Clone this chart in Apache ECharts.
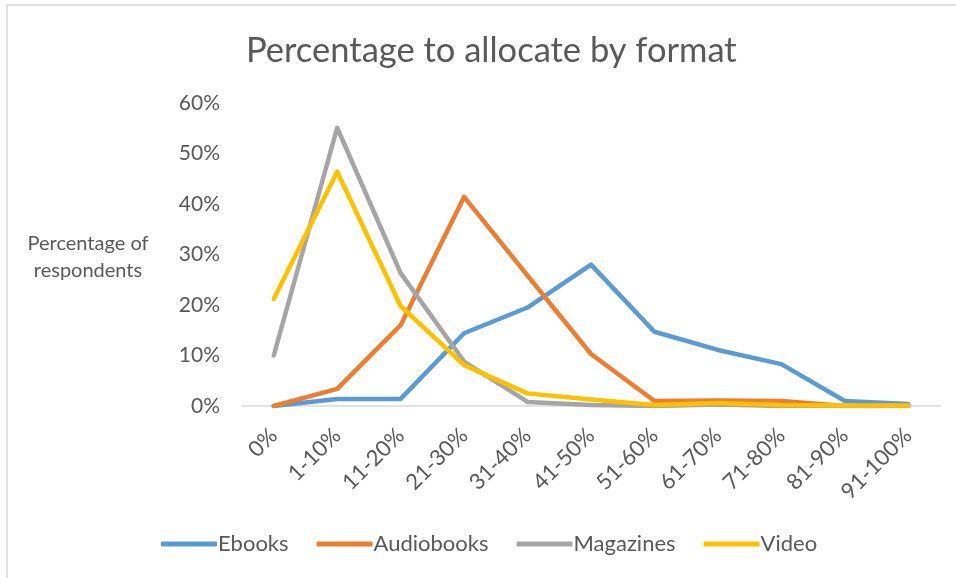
<!DOCTYPE html>
<html><head><meta charset="utf-8">
<script src="https://cdn.jsdelivr.net/npm/echarts@6/dist/echarts.min.js"></script>
<style>html,body{margin:0;padding:0;background:#fff}#c{width:956px;height:578px}</style>
</head><body><div id="c"></div>
<script>
const categories = ['0%','1-10%','11-20%','21-30%','31-40%','41-50%','51-60%','61-70%','71-80%','81-90%','91-100%'];
const ebooks     = [0.000, 0.014, 0.014, 0.144, 0.195, 0.280, 0.147, 0.111, 0.083, 0.010, 0.004];
const audiobooks = [0.000, 0.034, 0.160, 0.414, 0.258, 0.103, 0.010, 0.011, 0.010, 0.000, 0.000];
const magazines  = [0.100, 0.551, 0.263, 0.088, 0.008, 0.002, 0.000, 0.003, 0.000, 0.000, 0.000];
const video      = [0.212, 0.464, 0.198, 0.081, 0.025, 0.013, 0.002, 0.006, 0.002, 0.001, 0.001];
const seriesNames = ['Ebooks','Audiobooks','Magazines','Video'];
const colors = ['#5B9BD5','#ED7D31','#A5A5A5','#FFC000'];
const yTicks = [0, 0.1, 0.2, 0.3, 0.4, 0.5, 0.6];

const font = 'Lato';
const chart = echarts.init(document.getElementById('c'), null, {renderer:'canvas'});
const mk = (name, data, i) => ({
  name, type:'line', data, symbol:'none', smooth:false,
  lineStyle:{width:4.5, color:colors[i], cap:'round', join:'round'},
  itemStyle:{color:colors[i]}
});
chart.setOption({
  animation:false,
  graphic:[
    {type:'rect', shape:{x:7, y:5, width:960, height:600}, style:{fill:'none', stroke:'#d9d9d9', lineWidth:1.5}, z:-1},
    {type:'text', x:88, y:257, style:{text:'Percentage of\nrespondents', font:'20px Lato', fill:'#595959', align:'center', verticalAlign:'middle', lineHeight:27}}
  ],
  title:{text:'Percentage to allocate by format', left:241, top:28,
    textStyle:{fontFamily:font, fontSize:34.5, fontWeight:'normal', color:'#595959'}},
  legend:{top:528, left:156, itemWidth:56, itemHeight:5, itemGap:28,
    icon:'roundRect',
    textStyle:{fontFamily:font, fontSize:22, color:'#595959', padding:[0,0,0,-4]},
    data:seriesNames},
  grid:{left:242, right:16, top:103, bottom:172, containLabel:false},
  xAxis:{type:'category', data:categories, boundaryGap:true,
    axisLine:{lineStyle:{color:'#d9d9d9', width:1.5}}, axisTick:{show:false},
    axisLabel:{rotate:45, fontFamily:font, fontSize:22, color:'#595959', margin:26, interval:0}},
  yAxis:{type:'value', min:yTicks[0], max:yTicks[yTicks.length-1], interval:0.1,
    axisLine:{show:false}, axisTick:{show:false}, splitLine:{show:false},
    axisLabel:{fontFamily:font, fontSize:21, color:'#595959', margin:22,
      formatter:v=>Math.round(v*100)+'%'}},
  series:[mk(seriesNames[0],ebooks,0), mk(seriesNames[1],audiobooks,1), mk(seriesNames[2],magazines,2), mk(seriesNames[3],video,3)]
});
</script></body></html>
